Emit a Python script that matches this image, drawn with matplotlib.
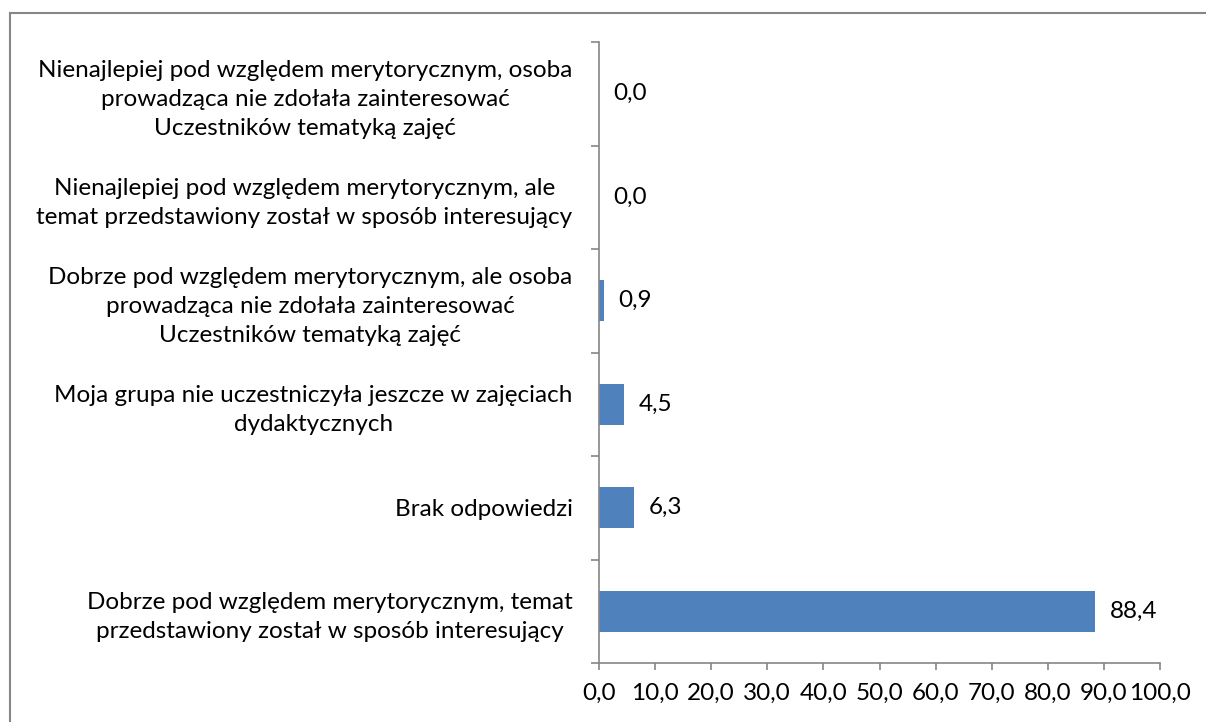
import matplotlib
matplotlib.use('Agg')
import matplotlib.pyplot as plt
from matplotlib.patches import Rectangle
from matplotlib.ticker import FixedLocator

plt.rcParams['font.family'] = ['Lato', 'DejaVu Sans']

# data (bottom to top)
categories = [
    'Dobrze pod względem merytorycznym, temat\nprzedstawiony został w sposób interesujący',
    'Brak odpowiedzi',
    'Moja grupa nie uczestniczyła jeszcze w zajęciach\ndydaktycznych',
    'Dobrze pod względem merytorycznym, ale osoba\nprowadząca nie zdołała zainteresować\nUczestników tematyką zajęć',
    'Nienajlepiej pod względem merytorycznym, ale\ntemat przedstawiony został w sposób interesujący',
    'Nienajlepiej pod względem merytorycznym, osoba\nprowadząca nie zdołała zainteresować\nUczestników tematyką zajęć',
]
values = [88.4, 6.3, 4.5, 0.9, 0.0, 0.0]
x_ticks = [0, 10, 20, 30, 40, 50, 60, 70, 80, 90, 100]

grey = '#868686'
fs = 17.5

fig = plt.figure(figsize=(12.06, 7.22), dpi=100)
ax = fig.add_axes([599/1206, 1-663/722, (1160-599)/1206, (663-42)/722])

ypos = list(range(len(categories)))
ax.barh(ypos, values, height=0.4, color='#4F81BD')

for y, v in zip(ypos, values):
    ax.text(v + 2.6, y, f'{v:.1f}'.replace('.', ','), va='center', ha='left', fontsize=fs)

ax.set_xlim(0, 100)
ax.set_ylim(-0.5, len(categories) - 0.5)
ax.set_xticks(x_ticks)
ax.set_xticklabels([f'{t:.1f}'.replace('.', ',') for t in x_ticks], fontsize=fs)
ax.set_yticks(ypos)
ax.set_yticklabels(categories, fontsize=fs, multialignment='center', linespacing=1.45)
ax.yaxis.set_minor_locator(FixedLocator([i - 0.5 for i in range(len(categories) + 1)]))
ax.tick_params(axis='y', which='major', length=0, pad=19)
ax.tick_params(axis='y', which='minor', length=6, color=grey, width=1.2)
ax.tick_params(axis='x', length=5, color=grey, width=1.2, pad=9)

for s in ['top', 'right']:
    ax.spines[s].set_visible(False)
for s in ['left', 'bottom']:
    ax.spines[s].set_color(grey)
    ax.spines[s].set_linewidth(1.2)

# outer border
fig.patches.append(Rectangle((10/1206, -0.1), 1.2, 1 - 13/722 + 0.1, transform=fig.transFigure,
                             fill=False, edgecolor=grey, linewidth=1.5))

fig.savefig('out.png', dpi=100)
